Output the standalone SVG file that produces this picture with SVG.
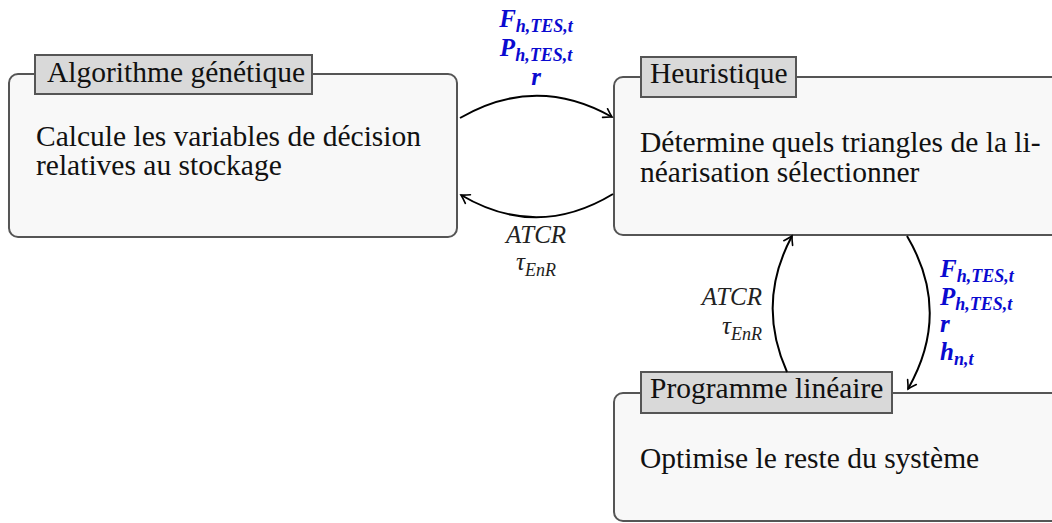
<svg xmlns="http://www.w3.org/2000/svg" width="1052" height="523" viewBox="0 0 1052 523">
<style>
.box{fill:#f8f8f8;stroke:#555;stroke-width:2}
.title{fill:#d9d9d9;stroke:#555;stroke-width:2}
.t{font-family:"Liberation Serif","DejaVu Serif",serif;font-size:29.5px;fill:#111}
.lb{font-family:"Liberation Serif","DejaVu Serif",serif;font-size:25px;font-weight:bold;font-style:italic;fill:#0a0ad0}
.lk{font-family:"Liberation Serif","DejaVu Serif",serif;font-size:25px;font-style:italic;fill:#222}
.sub{font-size:18px}
.arr{fill:none;stroke:#000;stroke-width:2;marker-end:url(#ah)}
</style>
<defs>
<marker id="ah" markerUnits="userSpaceOnUse" markerWidth="14" markerHeight="14" viewBox="-10 -7 12 14" refX="0" refY="0" orient="auto">
<path d="M-8,-5 Q-3,-1.5 0,0 Q-3,1.5 -8,5" fill="none" stroke="#000" stroke-width="1.6" stroke-linecap="round"/>
</marker>
</defs>
<rect width="1052" height="523" fill="#fff"/>
<g id="algo">
<rect class="box" x="9" y="74" width="448" height="163" rx="9"/>
<rect class="title" x="35" y="55" width="277" height="39"/>
<text class="t" x="47" y="82">Algorithme génétique</text>
<text class="t" x="36" y="146">Calcule les variables de décision</text>
<text class="t" x="36" y="175">relatives au stockage</text>
</g>
<g id="heur">
<rect class="box" x="614" y="77" width="460" height="158" rx="9"/>
<rect class="title" x="641" y="57" width="155" height="40"/>
<text class="t" x="650" y="83">Heuristique</text>
<text class="t" x="640" y="152">Détermine quels triangles de la li-</text>
<text class="t" x="640" y="182">néarisation sélectionner</text>
</g>
<g id="prog">
<rect class="box" x="614" y="393" width="460" height="128" rx="9"/>
<rect class="title" x="641" y="372" width="251" height="41"/>
<text class="t" x="650" y="398">Programme linéaire</text>
<text class="t" x="640" y="468">Optimise le reste du système</text>
</g>
<g id="connectors">
<path class="arr" d="M460,118 Q536,74 612,117"/>
<path class="arr" d="M613,194 Q537,240 461,195"/>
<path class="arr" d="M907,236 Q952,312 908,389"/>
<path class="arr" d="M787,372 Q756,303 792,236"/>
</g>
<g id="labels">
<text class="lb" x="536" y="27" text-anchor="middle">F<tspan class="sub" dy="5">h,TES,t</tspan></text>
<text class="lb" x="536" y="56" text-anchor="middle">P<tspan class="sub" dy="5">h,TES,t</tspan></text>
<text class="lb" x="536" y="85" text-anchor="middle">r</text>
<text class="lk" x="536" y="243" text-anchor="middle">ATCR</text>
<text class="lk" x="536" y="270" text-anchor="middle">τ<tspan class="sub" dy="6">EnR</tspan></text>
<text class="lb" x="940" y="277">F<tspan class="sub" dy="5">h,TES,t</tspan></text>
<text class="lb" x="940" y="305">P<tspan class="sub" dy="5">h,TES,t</tspan></text>
<text class="lb" x="940" y="332">r</text>
<text class="lb" x="940" y="360">h<tspan class="sub" dy="5">n,t</tspan></text>
<text class="lk" x="762" y="305" text-anchor="end">ATCR</text>
<text class="lk" x="762" y="334" text-anchor="end">τ<tspan class="sub" dy="6">EnR</tspan></text>
</g>
</svg>
